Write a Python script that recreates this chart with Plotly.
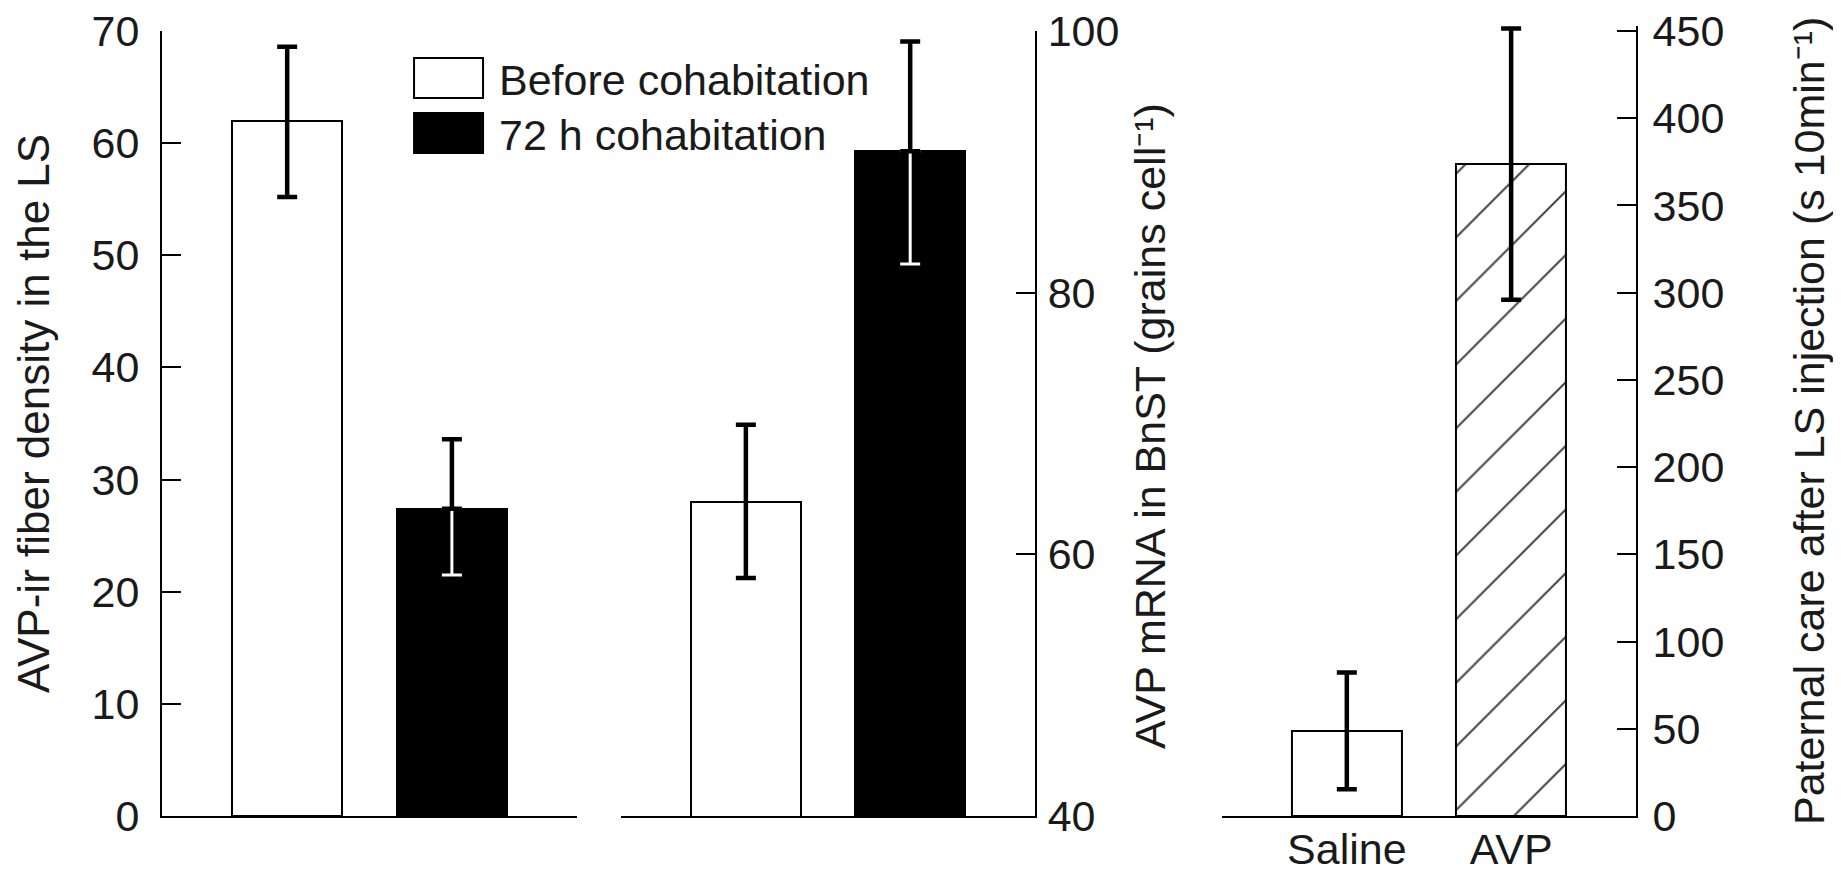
import plotly.graph_objects as go

# panel 1 and 2: before vs after 72 h cohabitation
groups = ["Before cohabitation", "72 h cohabitation"]
ls_density = [62.0, 27.4]
ls_err_hi = [68.6, 33.6]
ls_err_lo = [55.2, 21.5]

bnst_mrna = [64.0, 90.8]
bnst_err_hi = [69.9, 99.2]
bnst_err_lo = [58.2, 82.2]

# panel 3: LS injection
treatments = ["Saline", "AVP"]
paternal_care = [48.5, 373.7]
care_err_hi = [82.3, 451.5]
care_err_lo = [15.3, 295.9]

FONT = "Liberation Sans, Arial, Helvetica, sans-serif"
INK = "#1a1a1a"

fig = go.Figure()


def add_panel(xa, ya, cats, vals, hi, lo, fills, patterns):
    fig.add_trace(go.Bar(
        x=cats, y=vals, xaxis=xa, yaxis=ya, width=0.67,
        marker=dict(color=fills, line=dict(color="black", width=2),
                    pattern=dict(shape=patterns, fgcolor="black", fgopacity=1,
                                 bgcolor="white", size=45, solidity=0.045)),
        showlegend=False, hoverinfo="skip"))
    # error bars: the part hidden inside a black bar is drawn white
    for i, c in enumerate(cats):
        up = hi[i] - vals[i]
        down = vals[i] - lo[i]
        if fills[i] == "black":
            fig.add_trace(go.Scatter(
                x=[c], y=[vals[i]], xaxis=xa, yaxis=ya, mode="markers",
                marker=dict(size=0.1, opacity=0), cliponaxis=False,
                error_y=dict(type="data", symmetric=False, array=[0], arrayminus=[down],
                             color="white", thickness=3, width=10),
                showlegend=False, hoverinfo="skip"))
            fig.add_trace(go.Scatter(
                x=[c], y=[vals[i]], xaxis=xa, yaxis=ya, mode="markers",
                marker=dict(size=0.1, opacity=0), cliponaxis=False,
                error_y=dict(type="data", symmetric=False, array=[up], arrayminus=[0],
                             color="black", thickness=4.5, width=10),
                showlegend=False, hoverinfo="skip"))
        else:
            fig.add_trace(go.Scatter(
                x=[c], y=[vals[i]], xaxis=xa, yaxis=ya, mode="markers",
                marker=dict(size=0.1, opacity=0), cliponaxis=False,
                error_y=dict(type="data", symmetric=False, array=[up], arrayminus=[down],
                             color="black", thickness=4.5, width=10),
                showlegend=False, hoverinfo="skip"))


add_panel("x", "y", groups, ls_density, ls_err_hi, ls_err_lo, ["white", "black"], ["", ""])
add_panel("x2", "y2", groups, bnst_mrna, bnst_err_hi, bnst_err_lo, ["white", "black"], ["", ""])
add_panel("x3", "y3", treatments, paternal_care, care_err_hi, care_err_lo, ["white", "white"], ["", "/"])

xbase = dict(type="category", range=[-0.76, 1.76], showgrid=False, zeroline=False,
             showline=True, linecolor="black", linewidth=2, ticks="", fixedrange=True,
             automargin=False, ticklabeloverflow="allow",
             tickfont=dict(family=FONT, size=43, color=INK))
ybase = dict(showgrid=False, zeroline=False, showline=True, linecolor="black", linewidth=2,
             ticks="inside", ticklen=19, tickwidth=2, tickcolor="black", fixedrange=True,
             automargin=False, ticklabeloverflow="allow",
             tickfont=dict(family=FONT, size=43, color=INK))

# top margin is a few px smaller so the AVP error cap (just above 450) is not clipped
top_dom = 785 / 790

# page body has an 8 px margin, so the figure is 8 px smaller than the window
fig.update_layout(
    width=1833, height=864, autosize=False,
    margin=dict(l=154, r=205, t=18, b=56),
    paper_bgcolor="white", plot_bgcolor="rgba(0,0,0,0)",
    font=dict(family=FONT, color=INK),
    bargap=0,
    xaxis=dict(xbase, domain=[0, 0.2816], anchor="y", showticklabels=False),
    xaxis2=dict(xbase, domain=[0.3114, 0.5923], anchor="y2", showticklabels=False),
    xaxis3=dict(xbase, domain=[0.7191, 1.0], anchor="y3", showticklabels=True,
                ticklabelstandoff=-6),
    yaxis=dict(ybase, range=[0, 70], dtick=10, anchor="x", domain=[0, top_dom],
               ticklabelstandoff=12),
    yaxis2=dict(ybase, range=[40, 100], dtick=20, anchor="x2", side="right",
                domain=[0, top_dom], ticklabelstandoff=2),
    yaxis3=dict(ybase, range=[0, 450 / top_dom], tickvals=list(range(0, 451, 50)),
                anchor="x3", side="right", domain=[0, 1], ticklabelstandoff=6),
)


# screen pixel (window coords) -> paper coords of the 790 px tall plot area
def py(pix):
    return (816 - pix) / 790


titles = [
    ("AVP-ir fiber density in the LS", -0.0868, py(414), 44),
    ("AVP mRNA in BnST (grains cell\u207b\u00b9)", 0.6703, py(426), 43),
    ("Paternal care after LS injection (s 10min\u207b\u00b9)", 1.1174, py(421), 43),
]
for text, x, y, size in titles:
    fig.add_annotation(text=text, x=x, y=y, xref="paper", yref="paper",
                       xanchor="center", yanchor="middle", textangle=-90,
                       showarrow=False, font=dict(family=FONT, size=size, color=INK))

# legend drawn by hand: big rectangular swatches
legend_items = [("Before cohabitation", "white", 58, 98),
                ("72 h cohabitation", "black", 113, 153)]
for label, fill, top, bottom in legend_items:
    fig.add_shape(type="rect", xref="paper", yref="paper", x0=0.171, x1=0.2178,
                  y0=py(bottom), y1=py(top), fillcolor=fill,
                  line=dict(color="black", width=2))
    fig.add_annotation(text=label, x=0.2273, y=py((top + bottom) / 2 + 2),
                       xref="paper", yref="paper", xanchor="left", yanchor="middle",
                       showarrow=False, font=dict(family=FONT, size=43, color=INK))

fig.write_html("out.html")
